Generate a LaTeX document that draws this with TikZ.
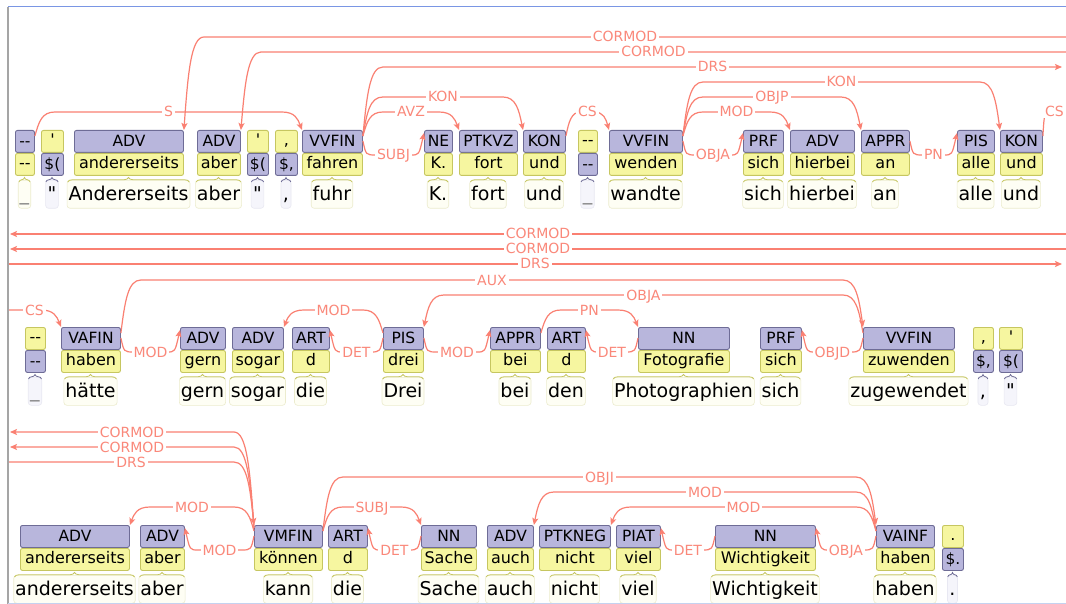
\documentclass[tikz,border=0pt]{standalone}
\usepackage{fontspec}
\newfontfamily\dv{DejaVu Sans}
\usetikzlibrary{arrows.meta,calc,decorations.pathreplacing}

\definecolor{tagfill}{RGB}{184,182,220}
\definecolor{tagline}{RGB}{110,108,150}
\definecolor{lemfill}{RGB}{246,246,160}
\definecolor{lemline}{RGB}{198,198,96}
\definecolor{wordfill}{RGB}{254,254,244}
\definecolor{wordline}{RGB}{236,236,206}
\definecolor{punfill}{RGB}{245,245,251}
\definecolor{punline}{RGB}{232,232,242}
\definecolor{arccol}{RGB}{250,128,114}
\definecolor{lblcol}{RGB}{250,136,122}
\definecolor{frametop}{RGB}{122,150,228}
\definecolor{frameleft}{RGB}{165,165,165}
\definecolor{framebot}{RGB}{196,210,240}

\pgfdeclarelayer{labels}
\pgfsetlayers{main,labels}

\tikzset{
  box/.style={rounded corners=2pt, line width=0.9pt, inner sep=0pt, minimum height=22pt, anchor=north west},
  tagbox/.style={box, draw=tagline, fill=tagfill, font=\dv\fontsize{15.5}{16}\selectfont, text height=11pt, text depth=0pt},
  lembox/.style={box, draw=lemline, fill=lemfill, font=\dv\fontsize{16}{17}\selectfont, text height=12pt, text depth=3.5pt},
  wordbox/.style={anchor=north, rounded corners=3pt, fill=wordfill, draw=wordline, line width=0.6pt,
    inner xsep=1.5pt, inner ysep=0pt, minimum height=28pt, text height=17pt, text depth=4pt,
    font=\dv\fontsize{19}{20}\selectfont},
  punbox/.style={wordbox, fill=punfill, draw=punline, inner xsep=2pt},
  brc/.style={decorate, decoration={brace, amplitude=4.5pt}, line width=0.8pt},
  arcl/.style={draw=arccol, line width=1.2pt},
  arrowend/.style={-{Stealth[length=7pt,width=6pt,inset=1.5pt]}},
  arrowstart/.style={{Stealth[length=7pt,width=6pt,inset=1.5pt]}-},
  lbl/.style={fill=white, text=lblcol, font=\dv\fontsize{14}{14}\selectfont,
    inner xsep=2pt, inner ysep=1pt, text height=10pt, text depth=0pt},
}

\newcommand\gapmark{\textcolor{gray}{\_}}

% token: part-of-speech box above lemma box, surface word below
\newcommand\tok[7]{%
  \node[tagbox, minimum width={#4-#3}] (p#1) at (#3,#2) {#5};
  \node[lembox, minimum width={#4-#3}] (l#1) at (#3,#2+23) {#6};
  \node[wordbox] (w#1) at ({(#3+#4)/2},#2+50) {#7};
  \draw[brc, draw=lemline] ($(w#1.north west)+(1,2)$) -- ($(w#1.north east)+(-1,2)$);
}
% punctuation token: lemma box above tag box
\newcommand\ptok[7]{%
  \node[lembox, minimum width={#4-#3}] (l#1) at (#3,#2) {#5};
  \node[tagbox, minimum width={#4-#3}] (p#1) at (#3,#2+23) {#6};
  \node[punbox] (w#1) at ({(#3+#4)/2},#2+50) {#7};
  \draw[brc, draw=tagline] ($(w#1.north west)+(0.5,2)$) -- ($(w#1.north east)+(-0.5,2)$);
}

% dependency arc above the boxes: [corner width]{from}{to}{level}{label}
\newcommand\hiarc[5][20]{%
  \draw[arcl, arrowend] let \p1=(#2.center), \p2=(#3.center),
      \p3=(#2.north east), \p4=(#2.north west),
      \p5=(#3.north east), \p6=(#3.north west),
      \n1={ifthenelse(\x2>\x1,1,-1)},
      \n2={ifthenelse(\x2>\x1,\x3,\x4)},
      \n3={\y3-6pt},
      \n4={-(#4)*1pt},
      \n5={ifthenelse(\x2>\x1,\x6,\x5)},
      \n6={\y5}
    in (\n2,\n3)
      .. controls ({\n2+\n1*0.2*#1pt},{\n3+0.6*((\n4)-(\n3))}) and ({\n2+\n1*0.35*#1pt},\n4) .. ({\n2+\n1*#1pt},\n4)
      -- ({\n5-\n1*#1pt},\n4)
      .. controls ({\n5-\n1*0.35*#1pt},\n4) and ({\n5-\n1*0.2*#1pt},{\n6+0.6*((\n4)-(\n6))}) .. (\n5,\n6)
      coordinate (lp) at ({((\n2)+(\n5))/2},\n4);
  \begin{pgfonlayer}{labels}\node[lbl] at (lp) {#5};\end{pgfonlayer}
}

% short arc dipping between neighbouring boxes: {from}{to}{level}{label}
\newcommand\loarc[4]{%
  \draw[arcl, arrowend] let \p1=(#1.center), \p2=(#2.center),
      \p3=(#1.north east), \p4=(#1.north west),
      \p5=(#2.north east), \p6=(#2.north west),
      \n1={ifthenelse(\x2>\x1,1,-1)},
      \n2={ifthenelse(\x2>\x1,\x3,\x4)},
      \n3={\y3-11pt},
      \n4={-(#3)*1pt},
      \n5={ifthenelse(\x2>\x1,\x6,\x5)},
      \n6={\y5-3pt}
    in (\n2,\n3)
      .. controls ({\n2+\n1*3pt},\n4) .. ({\n2+\n1*13pt},\n4)
      -- ({\n5-\n1*13pt},\n4)
      .. controls ({\n5-\n1*5pt},\n4) .. (\n5,\n6)
      coordinate (lp) at ({((\n2)+(\n5))/2},\n4);
  \begin{pgfonlayer}{labels}\node[lbl] at (lp) {#4};\end{pgfonlayer}
}

% arc running off to the margin: [corner width]{node}{margin point}{label}{tips}{drop below top}
\newcommand\edgearc[6][20]{%
  \draw[arcl, #5] let \p1=(#2.center), \p2=(#3),
      \p3=(#2.north east), \p4=(#2.north west),
      \n1={ifthenelse(\x2>\x1,1,-1)},
      \n2={ifthenelse(\x2>\x1,\x3,\x4)},
      \n3={\y3-(#6)*1pt},
      \n4={\y2}
    in (\n2,\n3)
      .. controls ({\n2+\n1*0.2*#1pt},{\n3+0.6*((\n4)-(\n3))}) and ({\n2+\n1*0.35*#1pt},\n4) .. ({\n2+\n1*#1pt},\n4)
      -- (\x2,\n4)
      coordinate (lp) at ({((\n2)+(\x2))/2},\n4);
  \begin{pgfonlayer}{labels}\node[lbl] at (lp) {#4};\end{pgfonlayer}
}

% arc passing straight through a whole line
\newcommand\fullline[4]{%
  \draw[arcl, #4] (#1) -- (#2);
  \begin{pgfonlayer}{labels}\node[lbl] at ($(#1)!0.5!(#2)$) {#3};\end{pgfonlayer}
}

\begin{document}
\begin{tikzpicture}[x=1pt, y=-1pt]
\useasboundingbox (0,0) rectangle (1066,604);
\fill[white] (0,0) rectangle (1066,604);

% ---------- line 1 ----------
\tok{1-1}{130}{15}{34}{-\kern0pt-}{-\kern0pt-}{\gapmark}
\ptok{1-2}{130}{41}{63}{'}{\$(}{"}
\tok{1-3}{130}{74}{183}{ADV}{andererseits}{Andererseits}
\tok{1-4}{130}{197}{240}{ADV}{aber}{aber}
\ptok{1-5}{130}{247}{268}{'}{\$(}{"}
\ptok{1-6}{130}{275}{297}{,}{\$,}{,}
\tok{1-7}{130}{302}{362}{VVFIN}{fahren}{fuhr}
\tok{1-8}{130}{424}{452}{NE}{K.}{K.}
\tok{1-9}{130}{459}{517}{PTKVZ}{fort}{fort}
\tok{1-10}{130}{523}{565}{KON}{und}{und}
\ptok{1-11}{130}{578}{597}{-\kern0pt-}{-\kern0pt-}{\gapmark}
\tok{1-12}{130}{609}{682}{VVFIN}{wenden}{wandte}
\tok{1-13}{130}{743}{783}{PRF}{sich}{sich}
\tok{1-14}{130}{790}{854}{ADV}{hierbei}{hierbei}
\tok{1-15}{130}{861}{909}{APPR}{an}{an}
\tok{1-16}{130}{957}{994}{PIS}{alle}{alle}
\tok{1-17}{130}{1000}{1042}{KON}{und}{und}

% ---------- line 2 ----------
\ptok{2-1}{327}{25}{45}{-\kern0pt-}{-\kern0pt-}{\gapmark}
\tok{2-2}{327}{61}{120}{VAFIN}{haben}{hätte}
\tok{2-3}{327}{180}{225}{ADV}{gern}{gern}
\tok{2-4}{327}{232}{283}{ADV}{sogar}{sogar}
\tok{2-5}{327}{292}{329}{ART}{d}{die}
\tok{2-6}{327}{383}{423}{PIS}{drei}{Drei}
\tok{2-7}{327}{490}{540}{APPR}{bei}{bei}
\tok{2-8}{327}{547}{585}{ART}{d}{den}
\tok{2-9}{327}{638}{729}{NN}{Fotografie}{Photographien}
\tok{2-10}{327}{760}{801}{PRF}{sich}{sich}
\tok{2-11}{327}{863}{954}{VVFIN}{zuwenden}{zugewendet}
\ptok{2-12}{327}{973}{993}{,}{\$,}{,}
\ptok{2-13}{327}{999}{1022}{'}{\$(}{"}

% ---------- line 3 ----------
\tok{3-1}{525}{20}{129}{ADV}{andererseits}{andererseits}
\tok{3-2}{525}{140}{184}{ADV}{aber}{aber}
\tok{3-3}{525}{254}{322}{VMFIN}{können}{kann}
\tok{3-4}{525}{328}{367}{ART}{d}{die}
\tok{3-5}{525}{421}{476}{NN}{Sache}{Sache}
\tok{3-6}{525}{487}{533}{ADV}{auch}{auch}
\tok{3-7}{525}{539}{610}{PTKNEG}{nicht}{nicht}
\tok{3-8}{525}{616}{660}{PIAT}{viel}{viel}
\tok{3-9}{525}{715}{815}{NN}{Wichtigkeit}{Wichtigkeit}
\tok{3-10}{525}{876}{934}{VAINF}{haben}{haben}
\ptok{3-11}{525}{942}{963}{.}{\$.}{.}

% margin points where arcs leave one line and enter the next
\coordinate (r1cmA) at (1066,37);
\coordinate (r1cmB) at (1066,52);
\coordinate (r1drs) at (1062,67);
\coordinate (r1cs)  at (1066,112);
\coordinate (r2cmAL) at (10,234);  \coordinate (r2cmAR) at (1066,234);
\coordinate (r2cmBL) at (10,249);  \coordinate (r2cmBR) at (1066,249);
\coordinate (r2drsL) at (8,264);   \coordinate (r2drsR) at (1062,264);
\coordinate (r2cs)  at (8,310);
\coordinate (r3cmA) at (10,432);
\coordinate (r3cmB) at (10,447);
\coordinate (r3drs) at (8,462);

% ---------- arcs, line 1 ----------
\hiarc{p1-1}{p1-7}{112}{S}
\edgearc{p1-3}{r1cmA}{CORMOD}{arrowstart}{0}
\edgearc{p1-4}{r1cmB}{CORMOD}{arrowstart}{0}
\edgearc{p1-7}{r1drs}{DRS}{arrowend}{6}
\hiarc{p1-7}{p1-10}{97}{KON}
\hiarc{p1-7}{p1-9}{112}{AVZ}
\loarc{p1-7}{p1-8}{155}{SUBJ}
\hiarc[15]{p1-10}{p1-12}{112}{CS}
\hiarc{p1-12}{p1-17}{82}{KON}
\hiarc{p1-12}{p1-15}{97}{OBJP}
\hiarc{p1-12}{p1-14}{112}{MOD}
\loarc{p1-12}{p1-13}{155}{OBJA}
\loarc{p1-15}{p1-16}{155}{PN}
\edgearc[4]{p1-17}{r1cs}{CS}{}{6}

% ---------- arcs, line 2 ----------
\fullline{r2cmAR}{r2cmAL}{CORMOD}{arrowend}
\fullline{r2cmBR}{r2cmBL}{CORMOD}{arrowend}
\fullline{r2drsL}{r2drsR}{DRS}{arrowend}
\edgearc{p2-2}{r2cs}{CS}{arrowstart}{0}
\hiarc{p2-2}{p2-11}{280}{AUX}
\hiarc{p2-11}{p2-6}{295}{OBJA}
\loarc{p2-2}{p2-3}{352}{MOD}
\hiarc{p2-6}{p2-4}{310}{MOD}
\loarc{p2-6}{p2-5}{352}{DET}
\loarc{p2-6}{p2-7}{352}{MOD}
\hiarc{p2-7}{p2-9}{310}{PN}
\loarc{p2-9}{p2-8}{352}{DET}
\loarc{p2-11}{p2-10}{352}{OBJD}

% ---------- arcs, line 3 ----------
\edgearc{p3-3}{r3cmA}{CORMOD}{arrowend}{3}
\edgearc{p3-3}{r3cmB}{CORMOD}{arrowend}{3}
\edgearc{p3-3}{r3drs}{DRS}{arrowstart}{0}
\hiarc{p3-3}{p3-1}{507}{MOD}
\loarc{p3-3}{p3-2}{550}{MOD}
\hiarc{p3-3}{p3-5}{507}{SUBJ}
\hiarc{p3-3}{p3-10}{477}{OBJI}
\loarc{p3-5}{p3-4}{550}{DET}
\hiarc{p3-10}{p3-6}{492}{MOD}
\hiarc{p3-10}{p3-7}{507}{MOD}
\loarc{p3-9}{p3-8}{550}{DET}
\loarc{p3-10}{p3-9}{550}{OBJA}

% ---------- frame ----------
\draw[frametop, line width=1pt] (8,7) -- (1066,7);
\draw[frameleft, line width=1.5pt] (8,7) -- (8,604);
\draw[framebot, line width=1pt] (8,603.5) -- (1066,603.5);
\end{tikzpicture}
\end{document}
